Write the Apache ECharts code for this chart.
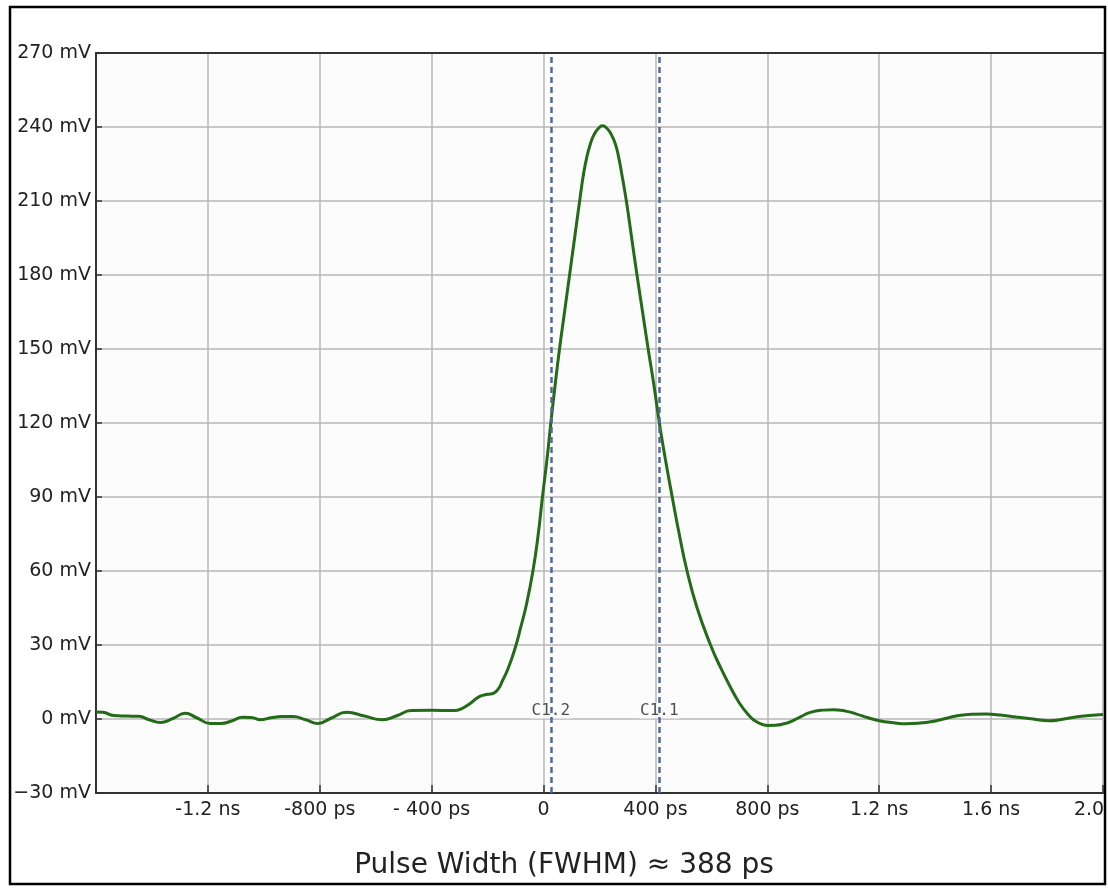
<!DOCTYPE html>
<html>
<head>
<meta charset="utf-8">
<script src="https://cdn.jsdelivr.net/npm/echarts@6/dist/echarts.min.js"></script>
<style>
  html, body { margin: 0; padding: 0; background: #fff; }
  #chart { width: 1108px; height: 889px; }
</style>
</head>
<body>
<div id="chart"></div>
<script>
// pulse trace, time in ps, amplitude in mV
const timesPs = [
  -1600, -1576, -1537, -1490, -1447, -1410, -1370, -1325, -1281, -1240,
  -1191, -1153, -1115, -1076, -1045, -1012, -975, -935, -896, -850,
  -806, -760, -704, -640, -576, -525, -473, -400, -319, -294,
  -260, -230, -200, -178, -160, -149, -125, -101, -82, -62,
  -38, -20, -4, 12, 26, 41, 57, 75, 93, 111,
  129, 143, 155, 167, 180, 195, 211, 227, 242, 257,
  268, 278, 296, 315, 334, 354, 374, 395, 414, 436,
  460, 485, 513, 549, 597, 630, 663, 700, 734, 760,
  800, 871, 920, 954, 1000, 1036, 1080, 1119, 1160, 1200,
  1250, 1295, 1340, 1390, 1440, 1484, 1530, 1582, 1640, 1689,
  1750, 1807, 1860, 1902, 1950, 2000
];
const voltsMv = [
  2.8, 2.7, 1.4, 1.2, 1.1, -0.3, -1.4, 0.2, 2.3, 0.5,
  -1.8, -1.8, -0.8, 0.7, 0.6, -0.3, 0.5, 1.0, 1.0, -0.3,
  -1.8, 0.3, 2.7, 1.2, -0.3, 1.3, 3.4, 3.5, 3.4, 4.1,
  6.5, 9.1, 10.0, 10.5, 12.5, 15, 21, 29, 37, 46,
  60, 74, 90, 105, 120, 135, 150, 165, 180, 195,
  210, 221, 228, 233, 236.8, 239.3, 240.5, 239.4, 237, 233,
  228, 222, 210, 195, 180, 165, 150, 135, 120, 105,
  90, 75, 60, 45, 30, 21.5, 14, 6.5, 1.5, -1.0,
  -2.6, -1.6, 1.0, 2.7, 3.6, 3.8, 3.2, 2.0, 0.5, -0.7,
  -1.5, -1.9, -1.7, -1.0, 0.3, 1.4, 1.9, 2.0, 1.5, 0.8,
  0, -0.7, 0, 0.8, 1.4, 1.8
];

// cursors
const cursorNames = ['C1.2', 'C1.1'];
const cursorTimesPs = [26, 414];

// axes
const xTickLabels = ['', '-1.2 ns', '-800 ps', '- 400 ps', '0', '400 ps', '800 ps', '1.2 ns', '1.6 ns', '2.0 ns'];
const yTickLabels = ['\u221230 mV', '0 mV', '30 mV', '60 mV', '90 mV', '120 mV', '150 mV', '180 mV', '210 mV', '240 mV', '270 mV'];
const titleText = 'Pulse Width (FWHM) \u2248 388 ps';

const X_MIN = -1600, X_MAX = 2000, X_STEP = 400;
const Y_MIN = -30, Y_MAX = 270, Y_STEP = 30;

const font = 'DejaVu Sans';
const gridColor = '#b9b9b9';
const axisColor = '#333';

const chart = echarts.init(document.getElementById('chart'));

const traceData = timesPs.map((t, i) => [t, voltsMv[i]]);
const cursorLabelData = cursorTimesPs.map((t, i) => ({ value: [t, 3.4], name: cursorNames[i] }));

const option = {
  backgroundColor: '#ffffff',
  animation: false,
  grid: {
    left: 96, top: 53, right: 5, bottom: 96,
    outerBoundsMode: 'none', containLabel: false,
    show: true, backgroundColor: '#fcfcfc', borderWidth: 0
  },
  xAxis: [{
    type: 'value',
    min: X_MIN, max: X_MAX, interval: X_STEP,
    axisLine: { show: true, onZero: false, lineStyle: { color: axisColor, width: 2 } },
    axisTick: { show: true, inside: true, length: 8, lineStyle: { color: axisColor, width: 1.5 } },
    axisLabel: {
      margin: 8, fontFamily: font, fontSize: 19, color: '#222',
      showMinLabel: true, showMaxLabel: true,
      formatter: v => xTickLabels[Math.round((v - X_MIN) / X_STEP)]
    },
    splitLine: { show: true, lineStyle: { color: gridColor, width: 1.5 } }
  }, {
    type: 'value', position: 'top',
    min: X_MIN, max: X_MAX, interval: X_STEP,
    axisLine: { show: true, onZero: false, lineStyle: { color: axisColor, width: 2 } },
    axisTick: { show: false }, axisLabel: { show: false }, splitLine: { show: false }
  }],
  yAxis: {
    type: 'value',
    min: Y_MIN, max: Y_MAX, interval: Y_STEP,
    axisLine: { show: true, onZero: false, lineStyle: { color: axisColor, width: 2 } },
    axisTick: { show: true, inside: true, length: 6, lineStyle: { color: axisColor, width: 1.5 } },
    axisLabel: {
      margin: 5, fontFamily: font, fontSize: 19, color: '#222',
      formatter: v => yTickLabels[Math.round((v - Y_MIN) / Y_STEP)]
    },
    splitLine: { show: true, lineStyle: { color: gridColor, width: 1.5 } }
  },
  series: [{
    type: 'line',
    data: traceData,
    smooth: 0.5,
    showSymbol: false,
    lineStyle: { color: '#236b17', width: 3 },
    z: 3,
    markLine: {
      silent: true,
      symbol: 'none',
      label: { show: false },
      lineStyle: { color: '#4d6a99', width: 2.5, type: [6, 4] },
      data: cursorTimesPs.map(t => ({ xAxis: t }))
    }
  }, {
    type: 'scatter',
    data: cursorLabelData,
    symbolSize: 0,
    z: 4,
    label: {
      show: true, position: 'inside',
      formatter: p => p.name,
      fontFamily: 'DejaVu Sans Mono', fontSize: 16, color: '#222',
      backgroundColor: '#fcfcfc', padding: [0, 1]
    }
  }],
  graphic: [{
    type: 'text',
    style: {
      x: 0, y: 0,
      text: titleText, font: '28px "DejaVu Sans"', fill: '#222',
      textAlign: 'center', textVerticalAlign: 'middle'
    },
    position: [564, 866],
    z: 10
  }, {
    type: 'rect',
    shape: { x: 10, y: 7, width: 1095, height: 877 },
    style: { fill: 'none', stroke: '#000', lineWidth: 2.5 },
    silent: true, z: 20
  }, {
    type: 'rect',
    shape: { x: 1106, y: 0, width: 2, height: 889 },
    style: { fill: '#fff' },
    silent: true, z: 19
  }]
};

chart.setOption(option);
</script>
</body>
</html>
